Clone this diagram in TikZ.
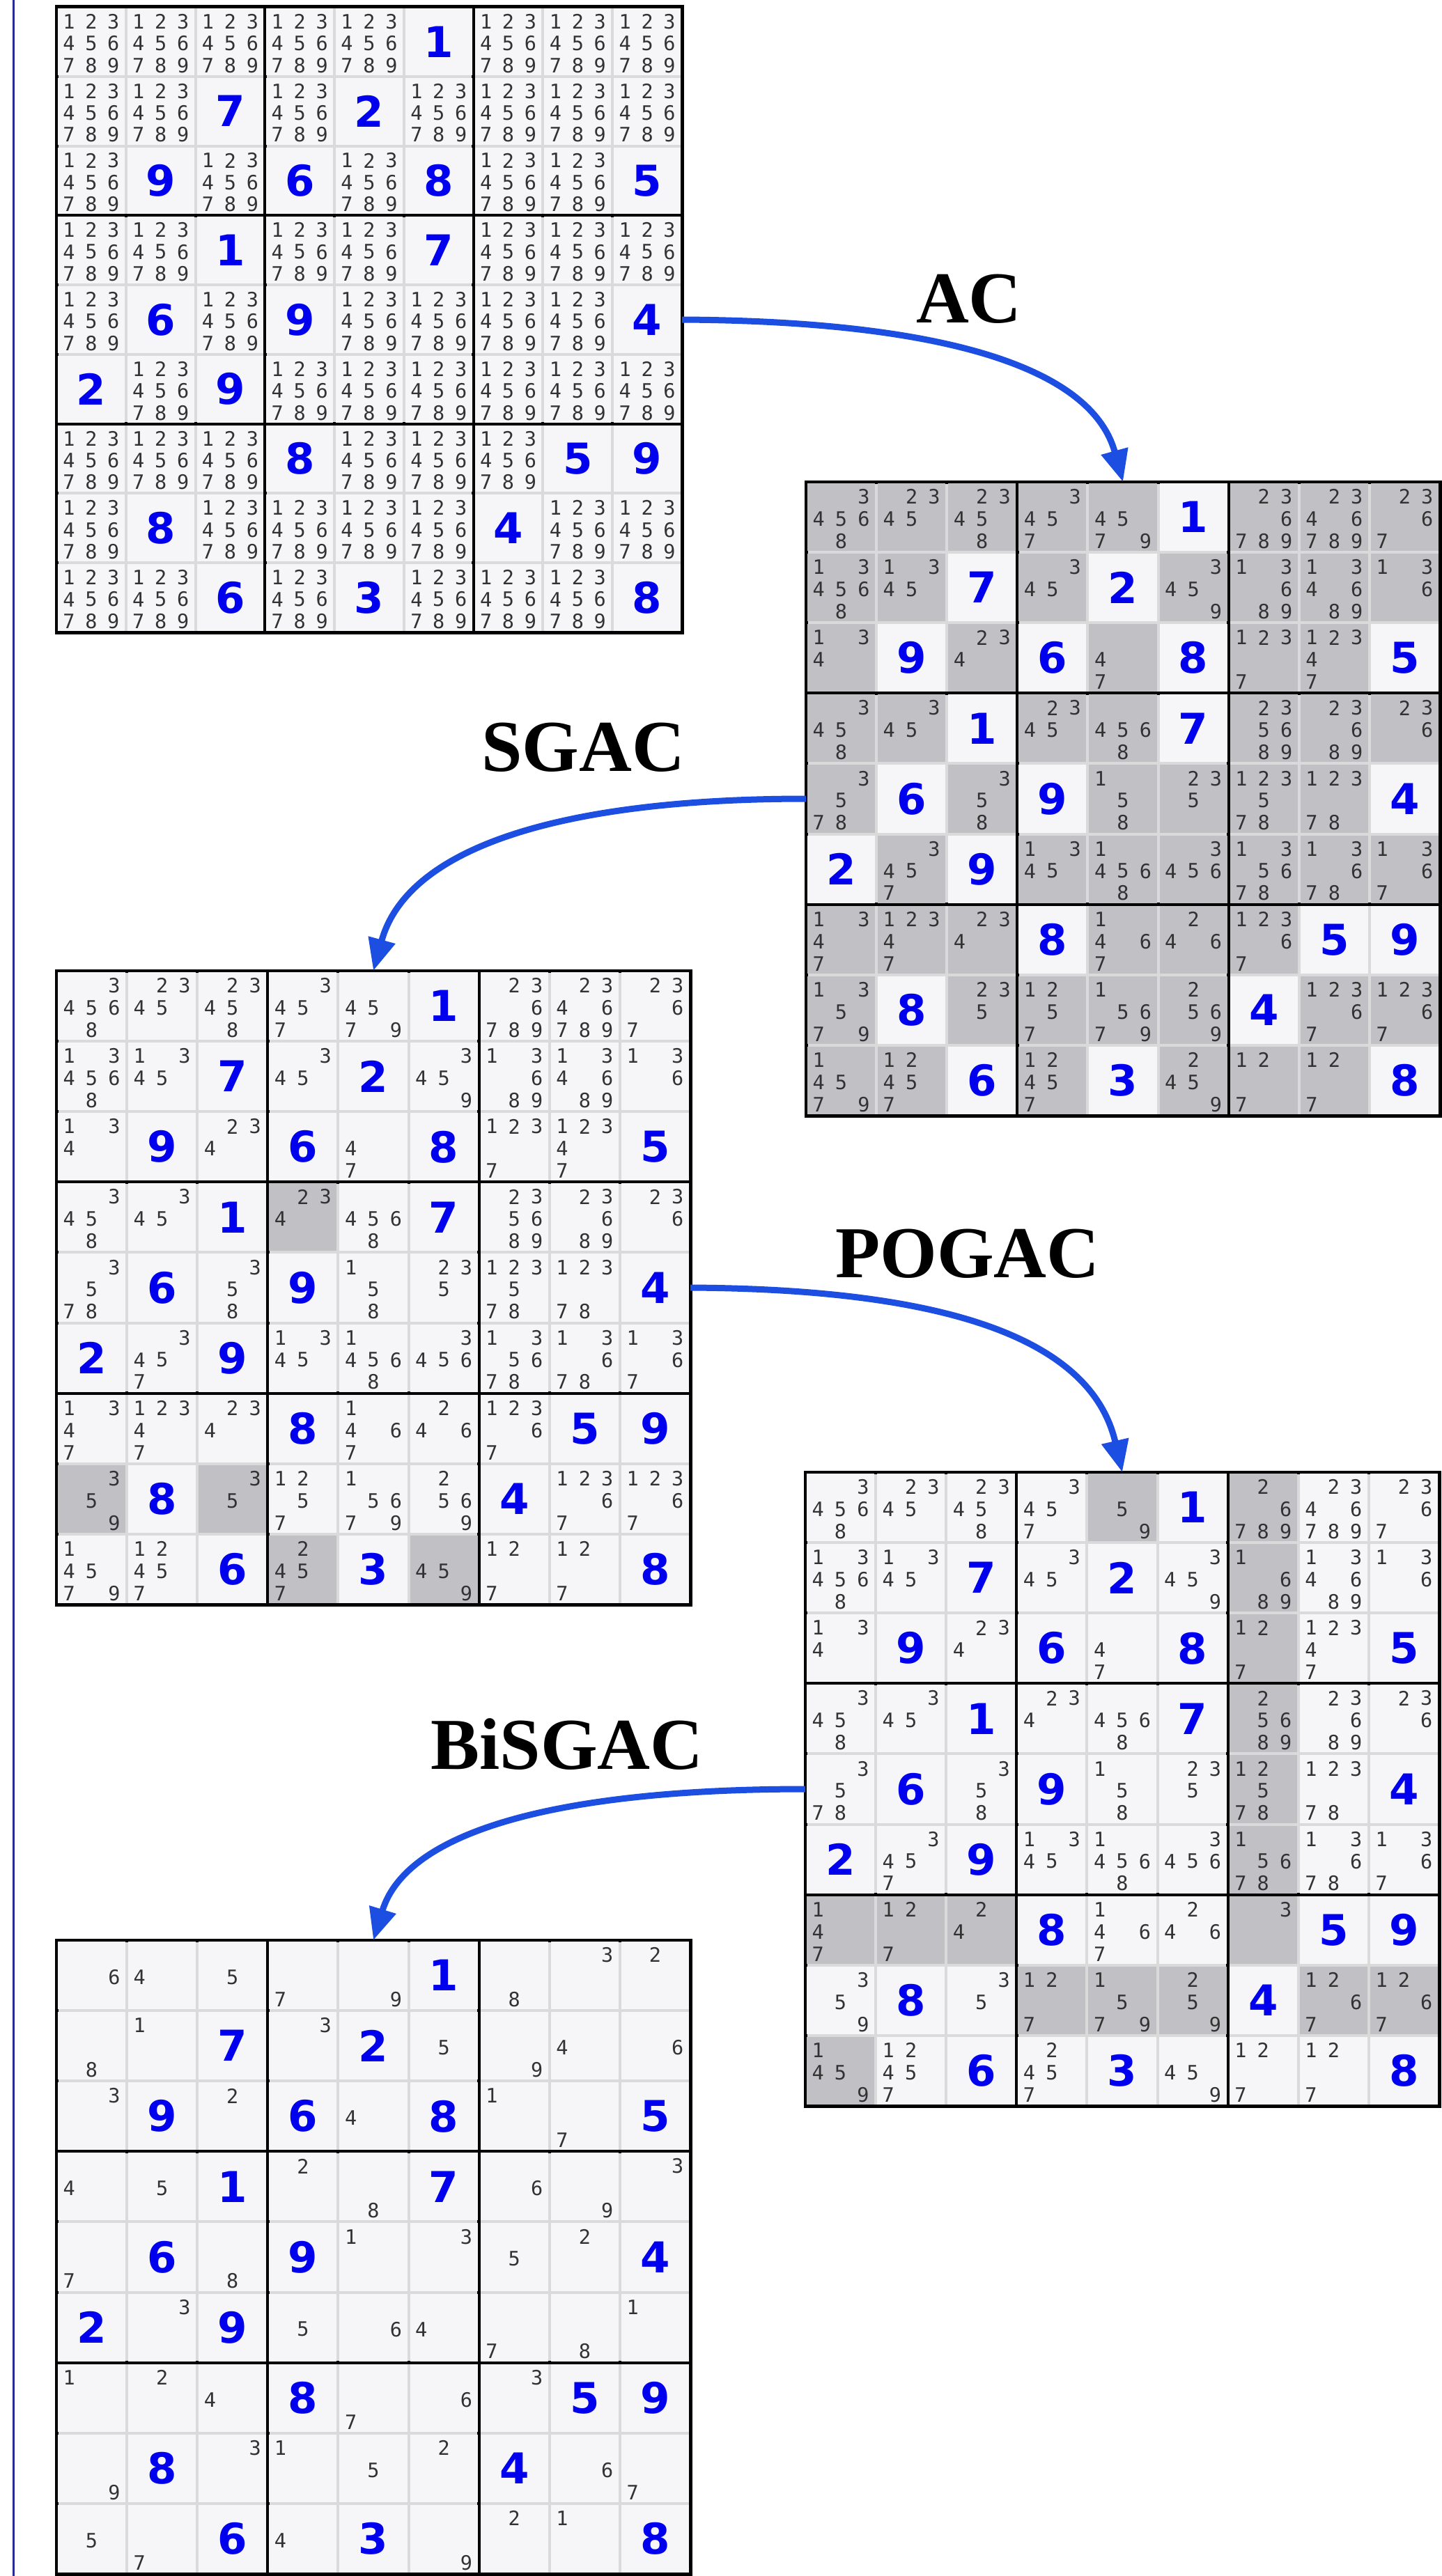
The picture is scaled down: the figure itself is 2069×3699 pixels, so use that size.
\documentclass[tikz,border=0pt]{standalone}
\usepackage{fontspec}
\usetikzlibrary{arrows.meta}
\newfontfamily\candfont{DejaVu Sans Mono}
\newfontfamily\givenfont{DejaVu Sans}
\newfontfamily\labelfont{Liberation Serif}

\definecolor{cellbg}{RGB}{246,246,248}
\definecolor{cellmark}{RGB}{192,192,197}
\definecolor{cellgap}{RGB}{218,218,218}
\definecolor{candtext}{RGB}{50,50,50}
\definecolor{giventext}{RGB}{0,0,238}
\definecolor{flow}{RGB}{28,78,226}
\definecolor{marginline}{RGB}{40,40,150}

\tikzset{
  gridnode/.style={rectangle, inner sep=0pt, outer sep=0pt},
  cand/.style={inner sep=0pt, text=candtext, font=\candfont\fontsize{28.5}{30}\selectfont},
  given/.style={inner sep=0pt, text=giventext, font=\givenfont\bfseries\fontsize{61}{63}\selectfont},
  stagelabel/.style={inner sep=0pt, font=\labelfont\bfseries\fontsize{105}{110}\selectfont},
  flowarrow/.style={draw=flow, line width=9pt, -{Triangle[length=46pt,width=38pt]}}
}

% all nine candidates
\def\allc{123456789}

\makeatletter
\def\sdk@G{G}\def\sdk@X{X}
% candidates of one cell, placed on the 3x3 sub-grid
\def\sdk@cands#1{%
  \foreach \sdkd in {1,...,9}{%
    \edef\sdk@tmp{\noexpand\in@{\sdkd}{#1}}\sdk@tmp
    \ifin@
      \pgfmathsetmacro\sdkdx{\cx+\sdkP*(0.18+0.32*mod(\sdkd-1,3))}%
      \pgfmathsetmacro\sdkdy{\cy+\sdkP*(0.21+0.315*int((\sdkd-1)/3))}%
      \node[cand] at (\sdkdx,\sdkdy) {\sdkd};
    \fi}}
% one cell: G<digit> = given, X<cands> = marked cell, <cands> = plain cell
\def\sdk@cell#1#2\relax{%
  \def\sdk@first{#1}%
  \ifx\sdk@first\sdk@G
    \fill[cellbg] (\cx+2,\cy+2) rectangle (\cx+\sdkP-2,\cy+\sdkP-2);
    \node[given] at (\cx+\sdkP/2,\cy+\sdkP/2) {#2};
  \else
    \ifx\sdk@first\sdk@X
      \fill[cellmark] (\cx+2,\cy+2) rectangle (\cx+\sdkP-2,\cy+\sdkP-2);
      \sdk@cands{#2}%
    \else
      \fill[cellbg] (\cx+2,\cy+2) rectangle (\cx+\sdkP-2,\cy+\sdkP-2);
      \sdk@cands{#1#2}%
    \fi
  \fi}
% #1 node name, #2 left, #3 top, #4 size, #5 rows
\newcommand\sdkgrid[5]{%
  \pgfmathsetmacro\sdkP{#4/9}%
  \node[gridnode, minimum width=#4pt, minimum height=#4pt] (#1) at (#2+#4/2,#3+#4/2) {};
  \fill[black] (#2-2.5,#3-2.5) rectangle (#2+#4+2.5,#3+#4+2.5);
  \foreach \bi in {0,1,2}{\foreach \bj in {0,1,2}{%
    \fill[cellgap] ({#2+\bj*#4/3+2.5},{#3+\bi*#4/3+2.5}) rectangle ({#2+(\bj+1)*#4/3-2.5},{#3+(\bi+1)*#4/3-2.5});
  }}
  \foreach \rowdata [count=\sdkr from 0] in {#5}{%
    \foreach \e [count=\sdkc from 0] in \rowdata{%
      \pgfmathsetmacro\cx{#2+\sdkc*\sdkP}%
      \pgfmathsetmacro\cy{#3+\sdkr*\sdkP}%
      \expandafter\sdk@cell\e\relax
    }}%
}
\makeatother

\begin{document}
\begin{tikzpicture}[x=1pt,y=-1pt]
\useasboundingbox (0,0) rectangle (2069,3699);
\fill[white] (0,0) rectangle (2069,3699);
\draw[marginline, line width=3pt] (19,0) -- (19,3699);

% initial candidates
\sdkgrid{g1}{81}{10}{898}{
 {\allc,\allc,\allc,\allc,\allc,G1,\allc,\allc,\allc},
 {\allc,\allc,G7,\allc,G2,\allc,\allc,\allc,\allc},
 {\allc,G9,\allc,G6,\allc,G8,\allc,\allc,G5},
 {\allc,\allc,G1,\allc,\allc,G7,\allc,\allc,\allc},
 {\allc,G6,\allc,G9,\allc,\allc,\allc,\allc,G4},
 {G2,\allc,G9,\allc,\allc,\allc,\allc,\allc,\allc},
 {\allc,\allc,\allc,G8,\allc,\allc,\allc,G5,G9},
 {\allc,G8,\allc,\allc,\allc,\allc,G4,\allc,\allc},
 {\allc,\allc,G6,\allc,G3,\allc,\allc,\allc,G8}}

% after AC
\sdkgrid{g2}{1157}{692}{910}{
 {X34568,X2345,X23458,X3457,X4579,G1,X236789,X2346789,X2367},
 {X134568,X1345,G7,X345,G2,X3459,X13689,X134689,X136},
 {X134,G9,X234,G6,X47,G8,X1237,X12347,G5},
 {X3458,X345,G1,X2345,X4568,G7,X235689,X23689,X236},
 {X3578,G6,X358,G9,X158,X235,X123578,X12378,G4},
 {G2,X3457,G9,X1345,X14568,X3456,X135678,X13678,X1367},
 {X1347,X12347,X234,G8,X1467,X246,X12367,G5,G9},
 {X13579,G8,X235,X1257,X15679,X2569,G4,X12367,X12367},
 {X14579,X12457,G6,X12457,G3,X2459,X127,X127,G8}}

% after SGAC
\sdkgrid{g3}{81}{1394}{910}{
 {34568,2345,23458,3457,4579,G1,236789,2346789,2367},
 {134568,1345,G7,345,G2,3459,13689,134689,136},
 {134,G9,234,G6,47,G8,1237,12347,G5},
 {3458,345,G1,X234,4568,G7,235689,23689,236},
 {3578,G6,358,G9,158,235,123578,12378,G4},
 {G2,3457,G9,1345,14568,3456,135678,13678,1367},
 {1347,12347,234,G8,1467,246,12367,G5,G9},
 {X359,G8,X35,1257,15679,2569,G4,12367,12367},
 {14579,12457,G6,X2457,G3,X459,127,127,G8}}

% after POGAC
\sdkgrid{g4}{1156}{2114}{910}{
 {34568,2345,23458,3457,X59,G1,X26789,2346789,2367},
 {134568,1345,G7,345,G2,3459,X1689,134689,136},
 {134,G9,234,G6,47,G8,X127,12347,G5},
 {3458,345,G1,234,4568,G7,X25689,23689,236},
 {3578,G6,358,G9,158,235,X12578,12378,G4},
 {G2,3457,G9,1345,14568,3456,X15678,13678,1367},
 {X147,X127,X24,G8,1467,246,X3,G5,G9},
 {359,G8,35,X127,X1579,X259,G4,X1267,X1267},
 {X1459,12457,G6,2457,G3,459,127,127,G8}}

% after BiSGAC
\sdkgrid{g5}{81}{2786}{910}{
 {6,4,5,7,9,G1,8,3,2},
 {8,1,G7,3,G2,5,9,4,6},
 {3,G9,2,G6,4,G8,1,7,G5},
 {4,5,G1,2,8,G7,6,9,3},
 {7,G6,8,G9,1,3,5,2,G4},
 {G2,3,G9,5,6,4,7,8,1},
 {1,2,4,G8,7,6,3,G5,G9},
 {9,G8,3,1,5,2,G4,6,7},
 {5,7,G6,4,G3,9,2,1,G8}}

% stage labels
\node[stagelabel] (lAC) at (1391,429) {AC};
\node[stagelabel] (lSGAC) at (837,1073) {SGAC};
\node[stagelabel] (lPOGAC) at (1389,1800) {POGAC};
\node[stagelabel] (lBiSGAC) at (814,2505) {BiSGAC};

% propagation steps
\draw[flowarrow] (g1.east) .. controls (1330,461) and (1565,520) .. (g2.north);
\draw[flowarrow] (g2.west) .. controls (810,1147) and (585,1215) .. (g3.north);
\draw[flowarrow] (g3.east) .. controls (1340,1851) and (1565,1915) .. (g4.north);
\draw[flowarrow] (g4.west) .. controls (815,2569) and (585,2625) .. (g5.north);
\end{tikzpicture}
\end{document}
